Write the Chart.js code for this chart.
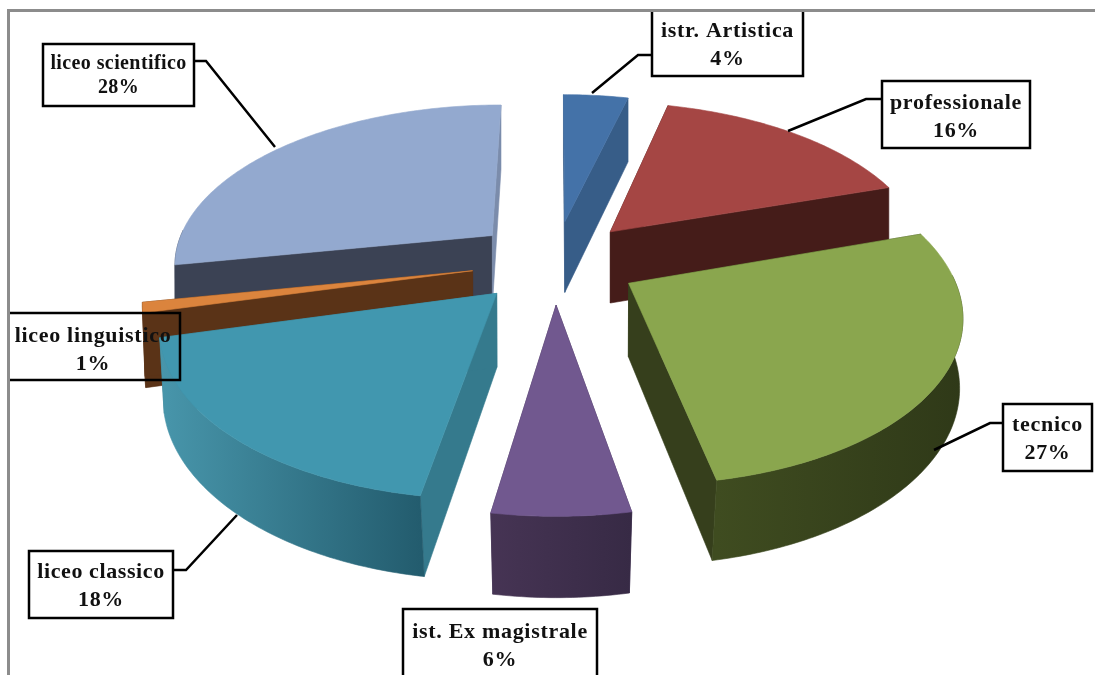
<!DOCTYPE html>
<html><head><meta charset="utf-8">
<style>html,body{margin:0;padding:0;background:#fff;overflow:hidden}canvas{display:block}</style>
<script src="https://cdn.jsdelivr.net/npm/chart.js@4"></script></head>
<body><canvas id="c" width="1095" height="675"></canvas>
<script>
const categories = ['istr. Artistica','professionale','tecnico','ist. Ex magistrale','liceo classico','liceo linguistico','liceo scientifico'];
const percentLabels = ['4%','16%','27%','6%','18%','1%','28%'];
const shares = [3.9,16.1,27,5.6,18.4,1,28];
const explode = [78,78,78,78,78,78,78];
const topColors = ['#4472a8','#a54644','#8aa64e','#71588f','#4197af','#db843d','#93a9cf'];
const cutStart = ['#375d88','#451c19','#363f1c','#3f2f54','#357a8d','#5a3317','#3b4254'];
const cutEnd = ['#375d88','#451c19','#363f1c','#3f2f54','#357a8d','#5a3317','#7b8cab'];
const wallFrom = ['#375d88','#451c19','#3f4c20','#463454','#4896ab','#5a3317','#3b4254'];
const wallTo = ['#375d88','#451c19','#2f3918','#372a45','#235c6e','#5a3317','#3b4254'];
const drawOrder = [6,5,4,0,1,2,3];
const boxes = [[652,8,803,76],[882,81,1030,148],[1003,404,1092,471],[403,609,597,690],[29,551,173,618],[6,313,180,380],[43,44,194,106]];
const textY = [[31,59],[103,131],[425,453],[632,660],[572,600],[336,364],[64,88]];
const fontPx = [22,22,22,22,22,22,20];
const spacingPx = [0.7,0.7,0.7,0.7,0.6,0.7,0.4];
const leaders = [[[652,55],[638,55],[592,93]],[[882,99],[866,99],[788,131]],[[1003,423],[990,423],[934,450]],[],[[173,570],[186,570],[237,515]],[],[[194,61],[206,61],[275,147]]];
const view = {cx:555,cy:261.5,sx:320,sy:160,k:0.165,depth:72.5,depthSlope:7,taper:0.025};

function project(u,v){const w=1-view.k*v;return {x:view.cx+view.sx*u/w,y:view.cy+view.sy*v/w,d:view.depth+view.depthSlope*v,v};}
function trace(ctx,pts){ctx.beginPath();pts.forEach((p,i)=>i?ctx.lineTo(p.x,p.y):ctx.moveTo(p.x,p.y));ctx.closePath();}
function fillBoth(ctx,pts,style){trace(ctx,pts);ctx.fillStyle=style;ctx.strokeStyle=style;ctx.lineWidth=0.6;ctx.fill();ctx.stroke();}

const pie3d = {
  id:'pie3d',
  beforeDraw(chart){
    const c=chart.ctx;c.save();c.fillStyle='#fff';c.fillRect(0,0,1095,675);c.restore();
  },
  beforeDatasetDraw(chart){
    const ctx=chart.ctx,arcs=chart.getDatasetMeta(0).data;
    ctx.save();
    drawOrder.forEach(i=>{
      const a=arcs[i],p=a.getProps(['startAngle','endAngle','outerRadius']);
      const R=p.outerRadius,mid=(p.startAngle+p.endAngle)/2,e=a.options.offset/R;
      const ou=Math.cos(mid)*e,ov=Math.sin(mid)*e;
      const apex=project(ou,ov),rim=[];
      const n=Math.max(4,Math.ceil((p.endAngle-p.startAngle)/0.015));
      for(let s=0;s<=n;s++){const t=p.startAngle+(p.endAngle-p.startAngle)*s/n;
        const q=project(ou+Math.cos(t),ov+Math.sin(t));q.front=Math.sin(t)>-0.05;rim.push(q);}
      const low=q=>({x:q.x-(q.x-view.cx)*view.taper*Math.max(0,q.v),y:q.y+q.d});
      fillBoth(ctx,[apex,rim[0],low(rim[0]),low(apex)],cutStart[i]);
      fillBoth(ctx,[apex,rim[n],low(rim[n]),low(apex)],cutEnd[i]);
      const fr=rim.filter(q=>q.front);
      if(fr.length>1){
        const x0=Math.min(...fr.map(q=>q.x)),x1=Math.max(...fr.map(q=>q.x));
        const g=ctx.createLinearGradient(x0,0,x1,0);g.addColorStop(0,wallFrom[i]);g.addColorStop(1,wallTo[i]);
        fillBoth(ctx,[...fr,...fr.slice().reverse().map(low)],g);
      }
      fillBoth(ctx,[apex,...rim],topColors[i]);
    });
    ctx.restore();
    return false;
  },
  afterDatasetsDraw(chart){
    const ctx=chart.ctx;ctx.save();
    ctx.strokeStyle='#000';ctx.lineWidth=2.5;ctx.lineJoin='miter';
    leaders.forEach(l=>{if(!l.length)return;ctx.beginPath();l.forEach((p,i)=>i?ctx.lineTo(p[0],p[1]):ctx.moveTo(p[0],p[1]));ctx.stroke();});
    ctx.textAlign='center';ctx.textBaseline='middle';ctx.fillStyle='#111';
    boxes.forEach((b,i)=>{
      ctx.lineWidth=2.5;ctx.strokeRect(b[0],b[1],b[2]-b[0],b[3]-b[1]);
      ctx.font='bold '+fontPx[i]+'px "Liberation Serif"';
      if('letterSpacing' in ctx)ctx.letterSpacing=spacingPx[i]+'px';
      const mx=(b[0]+b[2])/2;
      ctx.fillText(categories[i],mx,textY[i][0]);
      ctx.fillText(percentLabels[i],mx,textY[i][1]);
    });
    ctx.fillStyle='#8c8c8c';ctx.fillRect(7,9,1088,3);ctx.fillRect(7,9,3,666);
    ctx.fillStyle='#fff';ctx.fillRect(0,0,1095,9);ctx.fillRect(0,0,7,675);
    ctx.restore();
  }
};
new Chart(document.getElementById('c'),{
  type:'pie',
  data:{labels:categories,datasets:[{data:shares,offset:explode,backgroundColor:topColors,borderWidth:0}]},
  options:{responsive:false,animation:false,events:[],layout:{padding:0},
    plugins:{legend:{display:false},tooltip:{enabled:false},title:{display:false}}},
  plugins:[pie3d]
});
</script></body></html>
